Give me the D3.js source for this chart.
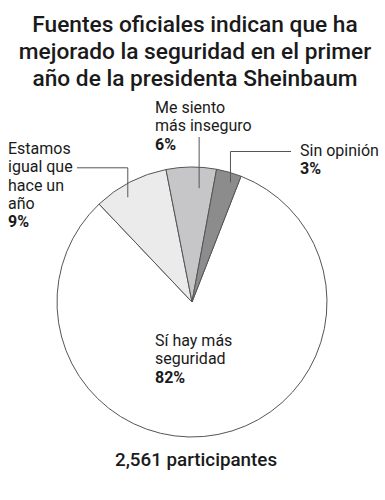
<!DOCTYPE html>
<html>
<head>
<meta charset="utf-8">
<script src="https://cdn.jsdelivr.net/npm/d3@7"></script>
<style>
  body { margin: 0; background: #fff; }
  svg { display: block; }
</style>
</head>
<body>
<svg id="chart"></svg>
<script>
// data
var categories = ["Sí hay más seguridad", "Estamos igual que hace un año", "Me siento más inseguro", "Sin opinión"];
var values = [82, 9, 6, 3];
var titleLines = ["Fuentes oficiales indican que ha", "mejorado la seguridad en el primer", "año de la presidenta Sheinbaum"];
var footer = "2,561 participantes";

var width = 385, height = 500;
var svg = d3.select("#chart").attr("width", width).attr("height", height);

var fontFam = "Roboto, 'Noto Sans', sans-serif";

// title
svg.append("g").selectAll("text")
  .data(titleLines)
  .enter().append("text")
  .attr("x", 195)
  .attr("y", function(d, i) { return 32 + i * 27; })
  .attr("text-anchor", "middle")
  .attr("font-family", fontFam)
  .attr("font-weight", 500)
  .attr("font-size", 22.7)
  .attr("fill", "#1a1a1a")
  .text(function(d) { return d; });

var cx = 192, cy = 302, r = 135;
var colors = ["#ffffff", "#ebebeb", "#c6c6c9", "#8c8c8c"];
var startDeg = 21.3;

var pie = d3.pie().sort(null)
  .startAngle(startDeg * Math.PI / 180)
  .endAngle(startDeg * Math.PI / 180 + 2 * Math.PI);
var arc = d3.arc().innerRadius(0).outerRadius(r);

var arcs = pie(values);

var g = svg.append("g").attr("transform", "translate(" + cx + "," + cy + ")");

g.selectAll("path")
  .data(arcs)
  .enter().append("path")
  .attr("d", arc)
  .attr("fill", function(d, i) { return colors[i]; })
  .attr("stroke", "#555")
  .attr("stroke-width", 1);

// label layout (lines, anchor position, leader elbow)
var labelLines = [
  ["Sí hay más", "seguridad"],
  ["Estamos", "igual que", "hace un", "año"],
  ["Me siento", "más inseguro"],
  ["Sin opinión"]
];
var labelPos = [
  {x: 155, y: 346, t: null},
  {x: 8, y: 154, t: 0.37, rr: 0.91, line: 1, lineStart: 77, mode: "elbow"},
  {x: 155, y: 113, t: 0.68, rr: 0.845, mode: "vertical", top: 137},
  {x: 300, y: 156, t: 0.68, rr: 0.93, line: 0, lineStart: 291, mode: "elbow"}
];
var lh = 18.3;

var labels = svg.append("g")
  .attr("font-family", fontFam)
  .attr("font-size", 16)
  .attr("fill", "#1a1a1a");

arcs.forEach(function(a, i) {
  var p = labelPos[i];
  var txt = labels.append("text").attr("x", p.x).attr("y", p.y);
  labelLines[i].forEach(function(l, j) {
    txt.append("tspan").attr("x", p.x).attr("dy", j === 0 ? 0 : lh).text(l);
  });
  txt.append("tspan").attr("x", p.x).attr("dy", lh)
    .attr("font-weight", 700)
    .text(values[i] + "%");

  if (p.t !== null) {
    var ang = a.startAngle + p.t * (a.endAngle - a.startAngle);
    var ex = cx + Math.sin(ang) * r * p.rr;
    var ey = cy - Math.cos(ang) * r * p.rr;
    var d;
    if (p.mode === "elbow") {
      var ly = p.y + p.line * lh - 4.5;
      d = "M" + p.lineStart + "," + ly + "H" + ex + "V" + ey;
    } else {
      d = "M" + ex + "," + p.top + "V" + ey;
    }
    svg.append("path")
      .attr("d", d)
      .attr("fill", "none")
      .attr("stroke", "#555")
      .attr("stroke-width", 1);
  }
});

svg.append("text")
  .attr("x", 196)
  .attr("y", 466)
  .attr("text-anchor", "middle")
  .attr("font-family", fontFam)
  .attr("font-weight", 500)
  .attr("font-size", 18.8)
  .attr("fill", "#1a1a1a")
  .text(footer);
</script>
</body>
</html>
